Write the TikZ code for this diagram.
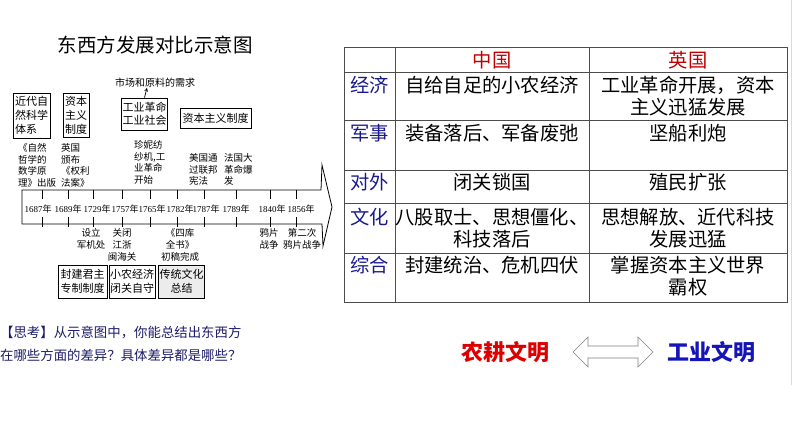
\documentclass[tikz,border=0pt]{standalone}
\usepackage{fontspec}
\setmainfont{Noto Sans CJK SC}
\newfontfamily\numfont{Liberation Serif}
\usepackage{tikz}
\usetikzlibrary{shapes,arrows,positioning,calc}
\usepackage{xcolor}
\definecolor{rowblue}{RGB}{25,25,140}
\definecolor{headred}{RGB}{190,0,0}
\definecolor{thinkblue}{RGB}{28,28,105}
\definecolor{civred}{RGB}{222,0,0}
\definecolor{civblue}{RGB}{20,20,185}
\newcommand{\yr}[1]{{\numfont #1}年}

\begin{document}
\begin{tikzpicture}[x=1pt, y=-1pt,
    box/.style={rectangle, draw, line width=0.9pt, fill=white, inner sep=1pt, align=left, font=\fontsize{11}{14}\selectfont},
    note/.style={inner sep=0pt, align=left, font=\fontsize{9.5}{11.7}\selectfont},
    event/.style={inner sep=0pt, align=center, font=\fontsize{9.5}{12.3}\selectfont},
    year/.style={inner sep=0pt, font=\fontsize{9}{10}\selectfont},
    grid/.style={draw=black!70, line width=0.8pt},
    cell/.style={inner sep=0pt, align=center, font=\fontsize{19.3}{22}\selectfont},
    rowlab/.style={cell, text=rowblue},
    head/.style={cell, text=headred},
    blockarrow/.style={draw=gray, fill=white, line width=0.6pt, line join=miter}]

    \useasboundingbox (0,0) rectangle (794,447);
    \draw[gray!30] (791,0) -- (791,385);

    % Title
    \node[font=\fontsize{19.5}{22}\selectfont] (title) at (155,45) {东西方发展对比示意图};

    % Timeline arrow
    \draw[line width=0.8pt] (22,190) -- (321,190) -- (322,165) -- (332,207) -- (323,246)
        -- (322,224) -- (22,224) -- cycle;
    \foreach \t/\c/\yy in {42/38/1687, 68/68/1689, 93/97/1729, 122/125/1757, 150/152/1765,
        177/180/1782, 204/206/1787, 236/236/1789, 270/272/1840, 296/301/1856} {
        \draw[line width=0.7pt] (\t,190) -- (\t,199);
        \draw[line width=0.7pt] (\t,217) -- (\t,227);
        \node[year] (y\yy) at (\c,209) {\yr{\yy}};
    }

    % Events above
    \node[note, anchor=west] (newton) at (18,165.5) {《自然\\哲学的\\数学原\\理》出版};
    \node[note, anchor=west] (rights) at (61,165.5) {英国\\颁布\\《权利\\法案》};
    \node[note, anchor=west] (jenny) at (134,162.5) {珍妮纺\\纱机,工\\业革命\\开始};
    \node[note, anchor=west] (usa) at (189,169.5) {美国通\\过联邦\\宪法};
    \node[note, anchor=west] (france) at (224,169.5) {法国大\\革命爆\\发};

    % Boxes above
    \node[box, minimum width=37pt, minimum height=45pt] (science) at (31.5,115.5) {近代自\\然科学\\体系};
    \node[box, minimum width=26pt, minimum height=44pt] (capsys) at (76,115) {资本\\主义\\制度};
    \node[box, minimum width=45pt, minimum height=32pt, font=\fontsize{11}{13}\selectfont] (indrev) at (144.5,114) {工业革命\\工业社会};
    \node[box, minimum width=71pt, minimum height=20pt] (capital) at (215.5,118) {资本主义制度};
    \node[inner sep=0pt, font=\fontsize{10}{12}\selectfont] (need) at (155,83) {市场和原料的需求};
    \draw[->, >=stealth, line width=0.7pt] (indrev.north) -- ([xshift=-8pt]need.south);

    % Events below
    \node[event] (junji) at (91,239) {设立\\军机处};
    \node[event] (closed) at (122,245) {关闭\\江浙\\闽海关};
    \node[event] (siku) at (180,245) {《四库\\全书》\\初稿完成};
    \node[event] (opium) at (269,239) {鸦片\\战争};
    \node[event] (opium2) at (302,239) {第二次\\鸦片战争};

    % Boxes below
    \node[box, align=center, minimum width=49pt, minimum height=33pt] (feudal) at (82.5,281.5) {封建君主\\专制制度};
    \node[box, align=center, minimum width=44pt, minimum height=33pt] (peasant) at (132,281.5) {小农经济\\闭关自守};
    \node[box, align=center, fill=gray!15, minimum width=43pt, minimum height=33pt] (culture) at (181.5,281.5) {传统文化\\总结};

    % Comparison table
    \draw[grid] (344,47) rectangle (787,302);
    \foreach \xx in {395,589} \draw[grid] (\xx,47) -- (\xx,302);
    \foreach \yy in {72,120,170,203,253} \draw[grid] (344,\yy) -- (787,\yy);

    \node[head] (cn) at (492,60) {中国};
    \node[head] (uk) at (688,60) {英国};

    \node[rowlab] (econ) at (369.5,85) {经济};
    \node[cell] (econcn) at (492,85) {自给自足的小农经济};
    \node[cell] (econuk) at (688,96) {工业革命开展，资本\\主义迅猛发展};

    \node[rowlab] (mil) at (369.5,133) {军事};
    \node[cell] (milcn) at (492,133) {装备落后、军备废弛};
    \node[cell] (miluk) at (688,133) {坚船利炮};

    \node[rowlab] (fgn) at (369.5,182) {对外};
    \node[cell] (fgncn) at (492,182) {闭关锁国};
    \node[cell] (fgnuk) at (688,182) {殖民扩张};

    \node[rowlab] (cult) at (369.5,217) {文化};
    \node[cell] (cultcn) at (492,228) {八股取士、思想僵化、\\科技落后};
    \node[cell] (cultuk) at (688,228) {思想解放、近代科技\\发展迅猛};

    \node[rowlab] (sum) at (369.5,265) {综合};
    \node[cell] (sumcn) at (492,265) {封建统治、危机四伏};
    \node[cell] (sumuk) at (688,276) {掌握资本主义世界\\霸权};

    % Question and conclusion
    \node[anchor=west, inner sep=0pt, align=left, text=thinkblue, font=\fontsize{13.4}{23}\selectfont] (think) at (0,343.5)
        {【思考】从示意图中，你能总结出东西方\\在哪些方面的差异？具体差异都是哪些？};
    \node[text=civred, font=\fontsize{22}{24}\selectfont\bfseries, inner sep=0pt] (farm) at (505,352) {农耕文明};
    \node[text=civblue, font=\fontsize{22}{24}\selectfont\bfseries, inner sep=0pt] (ind) at (711,352) {工业文明};
    \coordinate (dbl) at (613,352);
    \draw[blockarrow, shift={(dbl)}] (-40,0) -- (-25,-15) -- (-25,-6) -- (25,-6) -- (25,-15) -- (40,0)
        -- (25,15) -- (25,6) -- (-25,6) -- (-25,15) -- cycle;
\end{tikzpicture}
\end{document}
